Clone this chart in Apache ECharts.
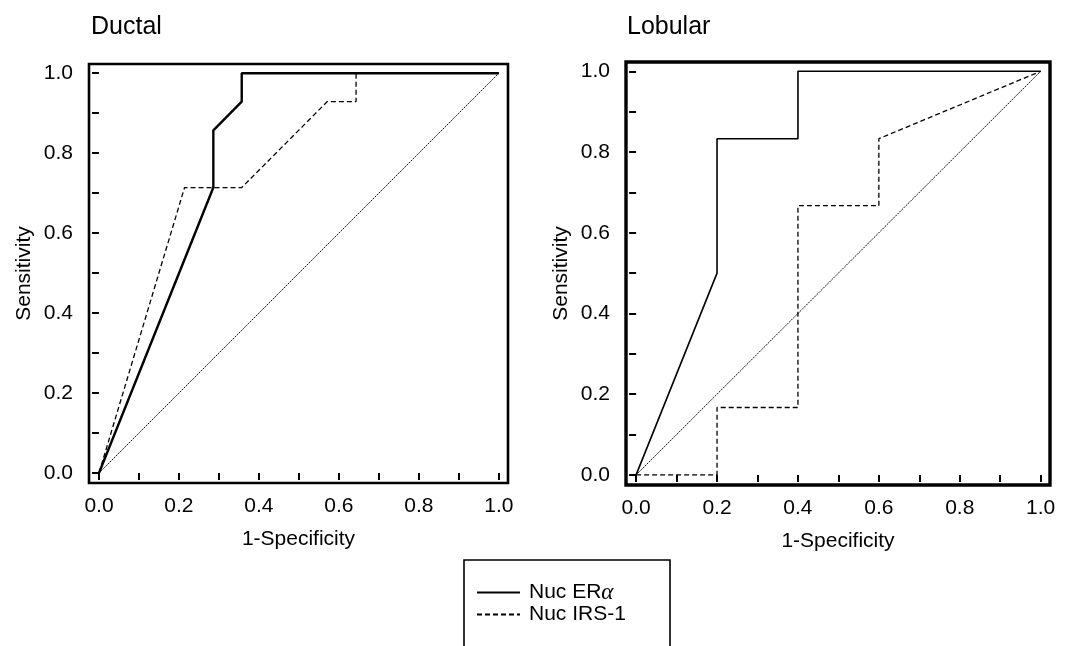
<!DOCTYPE html>
<html>
<head>
<meta charset="utf-8">
<style>
  html, body { margin: 0; padding: 0; background: #ffffff; }
  #chart { width: 1082px; height: 646px; }
</style>
<script src="https://cdn.jsdelivr.net/npm/echarts@6/dist/echarts.min.js"></script>
</head>
<body>
<div id="chart"></div>
<script>
// ROC curves: 1-Specificity (x) vs Sensitivity (y)
const ductalEraX = [0, 0.286, 0.286, 0.357, 0.357, 1];
const ductalEraY = [0, 0.714, 0.857, 0.929, 1, 1];
const ductalIrsX = [0, 0.214, 0.357, 0.571, 0.643, 0.643, 1];
const ductalIrsY = [0, 0.714, 0.714, 0.929, 0.929, 1, 1];

const lobularEraX = [0, 0.2, 0.2, 0.4, 0.4, 1];
const lobularEraY = [0, 0.5, 0.833, 0.833, 1, 1];
const lobularIrsX = [0, 0.2, 0.2, 0.4, 0.4, 0.6, 0.6, 1];
const lobularIrsY = [0, 0, 0.167, 0.167, 0.667, 0.667, 0.833, 1];

// reference (chance) line
const chanceX = [0, 1];
const chanceY = [0, 1];

const labelValues = [0, 0.2, 0.4, 0.6, 0.8, 1.0];
const tickValues = [0, 0.1, 0.2, 0.3, 0.4, 0.5, 0.6, 0.7, 0.8, 0.9, 1.0];
const panelTitles = ['Ductal', 'Lobular'];
const xName = '1-Specificity';
const yName = 'Sensitivity';
const seriesNames = ['Nuc ERα', 'Nuc IRS-1'];

const FONT = '"Liberation Sans", Arial, Helvetica, sans-serif';

function zip(xs, ys) { return xs.map((x, i) => [x, ys[i]]); }

function makeAxis(gridIndex, isX) {
  return {
    type: 'value',
    gridIndex: gridIndex,
    min: -0.025,
    max: 1.023,
    splitLine: { show: false },
    axisLine: { show: false },
    axisTick: {
      show: true,
      inside: false,
      length: 7,
      customValues: tickValues,
      lineStyle: { color: '#000', width: 2 }
    },
    axisLabel: {
      show: true,
      customValues: labelValues,
      formatter: v => v.toFixed(1),
      margin: isX ? 13 : 16,
      color: '#000',
      fontSize: 21,
      fontFamily: FONT
    },
    name: isX ? xName : yName,
    nameLocation: 'middle',
    nameGap: isX ? 46 : 54,
    nameTextStyle: {
      color: '#000',
      fontSize: 21,
      fontFamily: FONT
    }
  };
}

function lineSeries(name, xs, ys, gridIndex, style) {
  return {
    type: 'line',
    name: name,
    xAxisIndex: gridIndex,
    yAxisIndex: gridIndex,
    data: zip(xs, ys),
    symbol: 'none',
    silent: true,
    animation: false,
    itemStyle: { color: '#000' },
    lineStyle: style
  };
}

const eraStyleL = { color: '#000', width: 2.4, type: 'solid' };
const eraStyleR = { color: '#000', width: 1.6, type: 'solid' };
const irsStyle = { color: '#000', width: 1.3, type: [5, 3] };
const chanceStyle = { color: '#111', width: 1, type: [2, 1] };

const chart = echarts.init(document.getElementById('chart'), null, { renderer: 'canvas' });

chart.setOption({
  backgroundColor: '#ffffff',
  animation: false,
  title: [
    { text: panelTitles[0], left: 91, top: 15, padding: 0,
      textStyle: { fontSize: 25, fontWeight: 'normal', color: '#000', fontFamily: FONT } },
    { text: panelTitles[1], left: 627, top: 15, padding: 0,
      textStyle: { fontSize: 25, fontWeight: 'normal', color: '#000', fontFamily: FONT } }
  ],
  grid: [
    { left: 89, top: 64, width: 419, height: 419, show: true,
      borderColor: '#000', borderWidth: 2.6, backgroundColor: 'transparent' },
    { left: 626, top: 62, width: 424, height: 423, show: true,
      borderColor: '#000', borderWidth: 3.4, backgroundColor: 'transparent' }
  ],
  xAxis: [makeAxis(0, true), makeAxis(1, true)],
  yAxis: [makeAxis(0, false), makeAxis(1, false)],
  // frame around the legend
  graphic: [{
    type: 'rect',
    silent: true,
    shape: { x: 464, y: 560, width: 206, height: 120 },
    style: { fill: 'none', stroke: '#000', lineWidth: 1.6 }
  }],
  legend: {
    data: seriesNames,
    orient: 'vertical',
    left: 476,
    top: 581,
    padding: 0,
    itemGap: 0,
    itemWidth: 43,
    itemHeight: 14,
    selectedMode: false,
    itemStyle: { opacity: 0 },
    formatter: name => name.replace('α', '{g|α}'),
    textStyle: {
      color: '#000', fontSize: 21, fontFamily: FONT, lineHeight: 21,
      padding: [0, 0, 0, 4],
      rich: {
        g: { fontFamily: '"Liberation Serif", "DejaVu Serif", serif', fontStyle: 'italic', fontSize: 23, color: '#000' }
      }
    }
  },
  series: [
    lineSeries('chance', chanceX, chanceY, 0, chanceStyle),
    lineSeries(seriesNames[1], ductalIrsX, ductalIrsY, 0, irsStyle),
    lineSeries(seriesNames[0], ductalEraX, ductalEraY, 0, eraStyleL),
    lineSeries('chance', chanceX, chanceY, 1, chanceStyle),
    lineSeries(seriesNames[1], lobularIrsX, lobularIrsY, 1, irsStyle),
    lineSeries(seriesNames[0], lobularEraX, lobularEraY, 1, eraStyleR)
  ]
});
</script>
</body>
</html>
